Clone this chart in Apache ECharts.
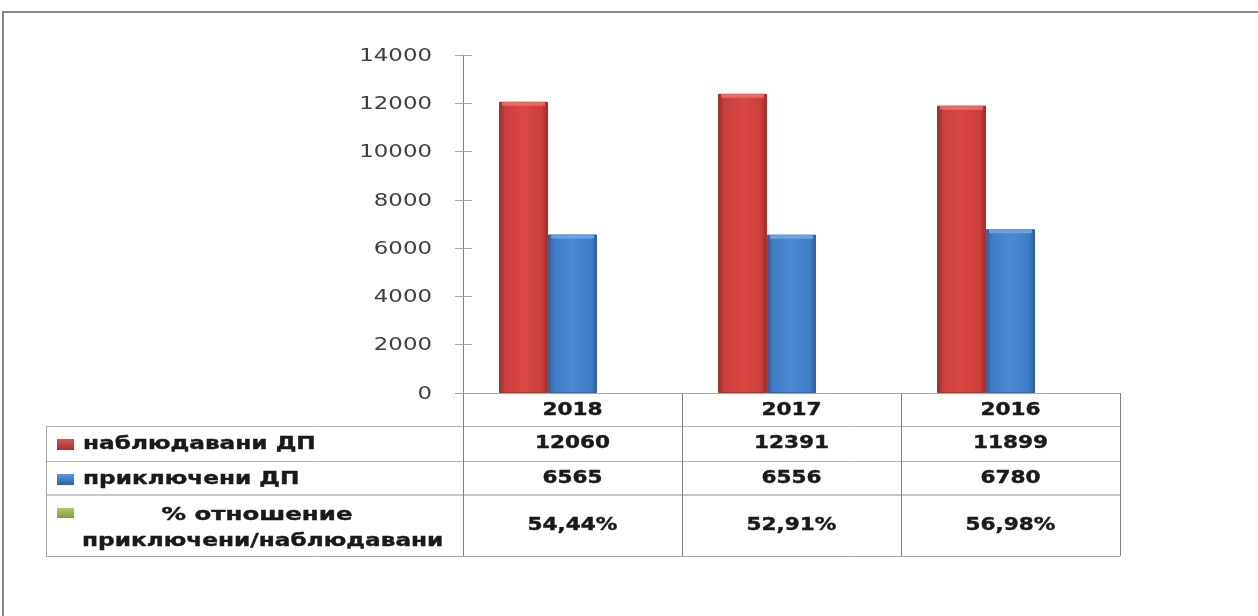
<!DOCTYPE html>
<html>
<head>
<meta charset="utf-8">
<script src="https://cdn.jsdelivr.net/npm/echarts@6/dist/echarts.min.js"></script>
<style>
html,body{margin:0;padding:0;background:#fff;}
#chart{width:1258px;height:616px;}
</style>
</head>
<body>
<div id="chart"></div>
<script>
// ---- data ----
const categories = ['2018', '2017', '2016'];
const observed = [12060, 12391, 11899];
const closed = [6565, 6556, 6780];
const ratioValues = [0.5444, 0.5291, 0.5698];
const ratioLabels = ['54,44%', '52,91%', '56,98%'];
const observedName = 'наблюдавани ДП';
const closedName = 'приключени ДП';
const ratioNameLine1 = '% отношение';
const ratioNameLine2 = 'приключени/наблюдавани';
const yTicks = [0, 2000, 4000, 6000, 8000, 10000, 12000, 14000];

// ---- layout ----
const G = { left: 463, top: 55, right: 1120, bottom: 393 };
const SX = 1.27; // horizontal text stretch
const FONT = '"DejaVu Sans", Verdana, sans-serif';

function barGrad(edge, mid, light) {
  return new echarts.graphic.LinearGradient(0, 0, 1, 0, [
    { offset: 0, color: edge },
    { offset: 0.12, color: mid },
    { offset: 0.5, color: light },
    { offset: 0.88, color: mid },
    { offset: 1, color: edge }
  ]);
}

const chart = echarts.init(document.getElementById('chart'));
const yMax = yTicks[yTicks.length - 1];
const yInterval = yTicks[1] - yTicks[0];

const option = {
  animation: false,
  backgroundColor: '#ffffff',
  grid: { left: G.left, top: G.top, right: 1258 - G.right, bottom: 616 - G.bottom, containLabel: false },
  xAxis: {
    type: 'category',
    data: categories,
    axisLine: { show: true, lineStyle: { color: '#a6a6a6', width: 1 } },
    axisTick: { show: false },
    axisLabel: { show: false },
    splitLine: { show: false }
  },
  yAxis: [
    {
      type: 'value', min: 0, max: yMax, interval: yInterval, position: 'left',
      axisLine: { show: true, lineStyle: { color: '#7f7f7f', width: 1 } },
      axisTick: { show: true, length: 8, lineStyle: { color: '#a6a6a6' } },
      axisLabel: { show: false },
      splitLine: { show: false }
    },
    {
      type: 'value', min: 0, max: yMax, interval: yInterval, position: 'left', offset: 0,
      axisLine: { show: false },
      axisTick: { show: true, inside: true, length: 9, lineStyle: { color: '#a6a6a6' } },
      axisLabel: { show: false },
      splitLine: { show: false }
    }
  ],
  series: [
    {
      name: observedName, type: 'bar', data: observed, barWidth: 49, barGap: '0%',
      itemStyle: { color: barGrad('#9a2825', '#c93f3a', '#db4843'), borderColor: 'rgba(150,40,36,0.6)', borderWidth: 1 }
    },
    {
      name: closedName, type: 'bar', data: closed, barWidth: 49, barGap: '0%',
      itemStyle: { color: barGrad('#2b5a98', '#3f7cc6', '#4c8ad6'), borderColor: 'rgba(40,85,145,0.6)', borderWidth: 1 }
    },
    {
      name: ratioNameLine1 + ' ' + ratioNameLine2, type: 'bar', data: ratioValues, barWidth: 49, barGap: '0%',
      itemStyle: { color: '#9bbb59' }
    }
  ]
};
chart.setOption(option);

// ---- table and labels drawn from the axis scales ----
const g = [];
// outer frame
g.push({ type: 'rect', shape: { x: 3, y: 12, width: 1400, height: 800 }, style: { fill: 'none', stroke: '#8a8a8a', lineWidth: 2 }, silent: true });

// y-axis labels
yTicks.forEach(v => {
  const py = chart.convertToPixel({ yAxisIndex: 0 }, v);
  g.push({ type: 'text', x: 432, y: py + 1, scaleX: SX,
    style: { text: String(v), font: '18px ' + FONT, fill: '#404040', align: 'right', verticalAlign: 'middle' } });
});

// bevel highlight on bar tops (follows the bar values through the axes)
const barW = 49;
[observed, closed].forEach((arr, s) => {
  arr.forEach((v, i) => {
    const cx = chart.convertToPixel({ xAxisIndex: 0 }, i);
    const left = cx - 1.5 * barW + s * barW;
    const top = chart.convertToPixel({ yAxisIndex: 0 }, v);
    const col = s === 0 ? 'rgba(240,120,115,0.75)' : 'rgba(120,175,235,0.75)';
    g.push({ type: 'rect', shape: { x: left + 3, y: top, width: barW - 6, height: 4 }, style: { fill: col }, silent: true, z: 10 });
  });
});

// table geometry
const T = { left: 46, r0: G.bottom, r1: 426, r2: 461, r3: 495, r4: 556 };
const xCenters = categories.map((c, i) => chart.convertToPixel({ xAxisIndex: 0 }, i));
const colW = (G.right - G.left) / categories.length;
const hLine = (x1, x2, y, color, w) => g.push({ type: 'line', shape: { x1, y1: y, x2, y2: y }, style: { stroke: color, lineWidth: w || 1 }, silent: true });
const vLine = (x, y1, y2, color) => g.push({ type: 'line', shape: { x1: x, y1, x2: x, y2 }, style: { stroke: color, lineWidth: 1 }, silent: true });

hLine(T.left, G.right, T.r1 + 0.5, '#b5b5b5');
hLine(T.left, G.right, T.r2 + 0.5, '#b5b5b5');
hLine(T.left, G.right, T.r3, '#c8c8c8', 2);
hLine(T.left, G.right, T.r4 + 0.5, '#a6a6a6');
vLine(T.left + 0.5, T.r1, T.r4, '#a6a6a6');
vLine(G.left + 0.5, T.r0, T.r4, '#7f7f7f');
for (let i = 1; i <= categories.length; i++) {
  vLine(Math.round(G.left + colW * i) + 0.5, T.r0, T.r4, '#7f7f7f');
}

const cellText = (x, y, text, align, size, sx) => g.push({ type: 'text', x, y, scaleX: sx || SX,
  style: { text, font: 'bold ' + (size || 17) + 'px ' + FONT, fill: '#1a1a1a', align: align || 'center', verticalAlign: 'middle',
    stroke: '#1a1a1a', lineWidth: 0.4 } });

const rowY = { head: 411, a: 444, b: 479, c: 525.5 };
categories.forEach((c, i) => {
  cellText(xCenters[i], rowY.head, c);
  cellText(xCenters[i], rowY.a, String(observed[i]));
  cellText(xCenters[i], rowY.b, String(closed[i]));
  cellText(xCenters[i], rowY.c, ratioLabels[i]);
});

// legend keys
const keyGrad = (edge, mid) => new echarts.graphic.LinearGradient(0, 0, 0, 1, [
  { offset: 0, color: mid }, { offset: 1, color: edge }]);
g.push({ type: 'rect', shape: { x: 57, y: 439, width: 17, height: 11 }, style: { fill: keyGrad('#a8302c', '#d9534e') }, silent: true });
g.push({ type: 'rect', shape: { x: 57, y: 474, width: 17, height: 11 }, style: { fill: keyGrad('#2f62a3', '#5a97df') }, silent: true });
g.push({ type: 'rect', shape: { x: 57, y: 508, width: 17, height: 10 }, style: { fill: keyGrad('#809e40', '#aecc68') }, silent: true });

cellText(83, rowY.a, observedName, 'left', 18, 1.29);
cellText(83, rowY.b, closedName, 'left', 18, 1.29);
cellText(257, 515, ratioNameLine1, 'center', 18, 1.36);
cellText(82, 541, ratioNameLine2, 'left', 18, 1.29);

chart.setOption({ graphic: { elements: g } });
</script>
</body>
</html>
